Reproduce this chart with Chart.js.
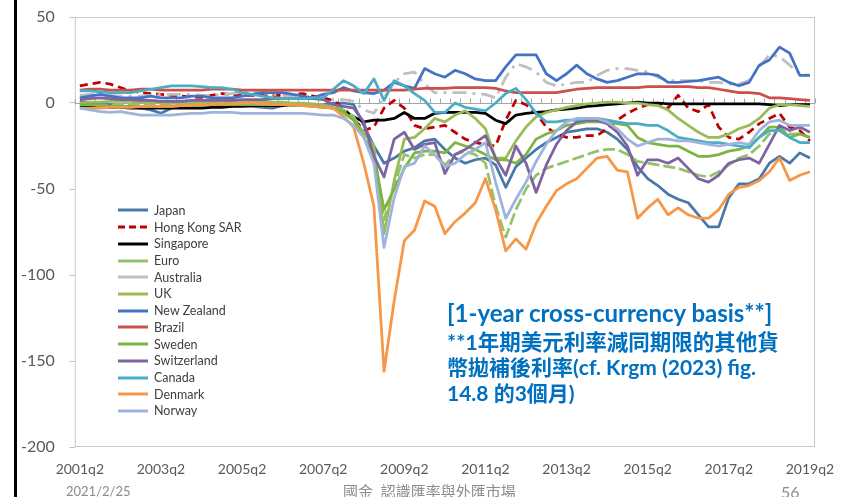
<!DOCTYPE html>
<html>
<head>
<meta charset="utf-8">
<script src="https://cdn.jsdelivr.net/npm/chart.js@4.4.1/dist/chart.umd.min.js"></script>
<style>
  body { margin: 0; background: #fff; }
  #slide { position: relative; width: 841px; height: 497px; overflow: hidden; font-family: 'Lato', 'Noto Sans CJK TC', sans-serif; }
  #basisChart { position: absolute; left: 0; top: 0; }
  .edge { position: absolute; left: 14px; top: 0; width: 3px; height: 497px; background: #000; }
  #legend { position: absolute; left: 118px; top: 202px; font-size: 12.5px; color: #404040; }
  #legend .row { height: 16.72px; display: flex; align-items: center; white-space: nowrap; }
  #legend svg { margin-right: 6px; }
  .note { position: absolute; left: 447px; color: #0070C0; font-weight: bold; white-space: nowrap; line-height: 26px; font-family: 'Lato', 'Noto Sans CJK TC', sans-serif; }
  .foot { position: absolute; color: #8C8C8C; line-height: 1; white-space: nowrap; }
</style>
</head>
<body>
<div id="slide">
  <canvas id="basisChart" width="841" height="497"></canvas>
  <div class="edge"></div>
  <div id="legend"></div>
  <div class="note" style="top:300px;font-size:24px;">[1-year cross-currency basis**]</div>
  <div class="note" style="top:329px;font-size:21.5px;">**1年期美元利率減同期限的其他貨</div>
  <div class="note" style="top:354px;font-size:21px;">幣拋補後利率(cf. Krgm (2023) fig.</div>
  <div class="note" style="top:380px;font-size:21px;">14.8 的3個月)</div>
  <div class="foot" style="left:66px;top:485px;font-size:13px;">2021/2/25</div>
  <div class="foot" style="left:343px;top:484px;font-size:15px;">國金&nbsp; 認識匯率與外匯市場</div>
  <div class="foot" style="left:781px;top:484px;font-size:16px;">56</div>
</div>
<script>
// quarterly categories 2001q2 .. 2019q2
const quarters = [];
for (let yr = 2001; yr <= 2019; yr++) {
  for (let q = 1; q <= 4; q++) {
    if (yr === 2001 && q < 2) continue;
    if (yr === 2019 && q > 2) continue;
    quarters.push(yr + 'q' + q);
  }
}

const yTicks = [50, 0, -50, -100, -150, -200];

const japan = [
  1, 0, -1, -1, -2, -2, -3, -4,
  -6, -3, -2, -2, -2, -1.5, -1, -1,
  -1.5, -2, -2.5, -3, -1.5, -1, -1, -1,
  -1, 0, 0, -1, -13, -25, -35, -32,
  -28, -26, -22, -21, -27, -32, -35, -33,
  -32, -36, -49, -37, -32, -27, -23, -20,
  -17, -16, -15, -15, -17, -21, -27, -37,
  -44, -48, -53, -56, -58, -65, -72, -72,
  -55, -47, -47, -44, -35, -31, -35, -29,
  -32];
const hongKong = [
  10, 11, 12, 11, 9, 7, 6, 5.5,
  5, 4.5, 4, 3.5, 3.3, 4.5, 5.5, 5,
  4.5, 4.5, 4.5, 4.5, 4.5, 5, 5.5, 4,
  3, 1.5, -3, -9, -16, -14, -3, 1.5,
  -3, -13, -15, -14, -13, -17, -21, -23,
  -24, -25, -10, 1.5, -1, -6, -14, -18,
  -20, -20, -19, -19, -15, -10, -6, -3,
  -1, 0, -3, 4.5, -3, -5, -1, -14,
  -20, -21, -17, -12, -9, -6, -14, -16,
  -22];
const singapore = [
  -2, -2, -2.5, -2.5, -2.5, -3, -3, -3,
  -3, -3, -3, -3, -3, -2.5, -2.5, -2,
  -2, -1.5, -1.5, -1.5, -1.5, -1, -1, -1.5,
  -2, -3, -4.5, -8, -11, -10, -10, -9,
  -5.5, -9, -9, -6, -5.5, -5.5, -5.5, -5.5,
  -6, -10, -12, -7, -6, -5.5, -5, -4,
  -3.5, -3, -2, -1.5, -1, -0.5, 0, 0.5,
  0, 0, -0.5, -0.5, -0.5, -0.5, -0.5, -0.5,
  -0.5, -0.5, -0.5, -0.5, -1, -1.5, -1, -1,
  -1];
const euro = [
  -1, -1, -1.5, -1.5, -1, -1, -1, -1,
  -1, -0.5, -0.5, 0, 0, 0, 0, 0,
  0, 0, 0, 0, -0.5, -0.5, -1, -1,
  -1.5, -2, -4, -8, -18, -28, -68, -48,
  -30, -32, -30, -30, -36, -30, -28, -30,
  -35, -60, -78, -62, -50, -42, -38, -36,
  -34, -32, -30, -28, -27, -27, -30, -34,
  -35, -36, -37, -38, -40, -42, -43, -40,
  -36, -32, -30, -25, -18, -15, -18, -18,
  -20];
const australia = [
  4.5, 5, 5, 4.5, 4, 4, 4, 4.5,
  5, 5, 5, 5, 4.5, 4.5, 5, 5.5,
  6, 6, 6, 5, 4.5, 4, 3.5, 3,
  3, 2, 2, 1, -4, -6, 3, 12,
  17, 18, 11, 6, 6, 6, 6, 5.5,
  5, 3, 15, 23, 21, 18, 12, 10,
  11, 12, 12, 16, 19, 20, 20, 19,
  18, 15, 13, 13, 13, 13, 12, 12,
  11, 11, 13, 21, 28, 27, 22, 17,
  16];
const uk = [
  0, 0.5, 0.5, 1, 1, 1, 0.5, 0.5,
  0, 0, 0, 0.5, 0.5, 0.5, 1, 1,
  1, 1, 1, 0.5, 0.5, 0, 0, -0.5,
  -1, -3, -6, -10, -17, -25, -76, -45,
  -21, -20, -15, -9, -11, -7, -4.5, -9,
  -15, -32, -32, -22, -14, -8, -5.5, -4,
  -2.5, -1.5, -0.5, 0, 0.5, 0.5, 0, 0,
  -1, -1.5, -4, -9, -13, -17, -20, -20,
  -18, -15, -13, -9, -3, -1, -1, -1.5,
  -2];
const newZealand = [
  3, 4, 5, 4, 3, 3, 3, 4,
  3, 3, 3, 4, 4, 3, 3, 3,
  4, 5, 6, 6, 6, 5, 4, 3,
  5, 6, 9, 7, 6, 5.5, 7.5, 12,
  10, 8.5, 20, 17, 15, 19, 17, 14,
  13, 13, 21, 28, 28, 28, 17, 13,
  17, 22, 17, 14, 12, 13, 15, 17,
  17, 16, 12, 12, 12.5, 13, 14, 15,
  12, 10, 12, 22, 25, 32.5, 29, 16,
  16];
const brazil = [
  7.5, 8, 8, 7.5, 7.5, 7.5, 8, 8,
  7.5, 7.5, 7.5, 7.5, 7.5, 8, 8, 8,
  7.5, 7.5, 7.5, 7.5, 7.5, 7.5, 7.5, 7.5,
  7.5, 7.5, 7.5, 7.5, 7.5, 7.5, 7.5, 7.5,
  7.5, 8, 8.5, 8.5, 8.5, 9, 9, 9,
  9, 8.5, 7, 6, 6, 6, 6, 6,
  7, 8, 8.5, 9, 9, 9, 9, 9,
  9.5, 9.5, 9.5, 9.5, 9.5, 9, 9, 8,
  7, 6, 6, 5.5, 3, 3, 2.5, 2,
  1.5];
const sweden = [
  -1, -1, -1.5, -2, -2, -2, -2, -2,
  -2, -2, -1.5, -1.5, -1.5, -1, -1, -1,
  -1, -1, -1, -1, -1, -1.5, -1.5, -2,
  -2.5, -3, -5, -10, -20, -30, -62, -50,
  -38, -29, -28, -28, -29, -23, -25, -27,
  -30, -33, -33, -35, -30, -21, -18, -16,
  -13, -12, -11, -11, -11, -12, -13, -20,
  -23, -24, -25, -25, -28, -31, -31, -30,
  -28, -27, -25, -20, -14, -14, -20, -18,
  -20];
const switzerland = [
  2, 2.5, 3, 2.5, 2, 2, 1.5, 1.5,
  1, 1, 1, 1.5, 1.5, 1.5, 1.5, 1.5,
  2, 2, 2, 2.5, 2.5, 2.5, 2.5, 2.5,
  2, -1, -2, -3, -11, -31, -43, -21,
  -17, -27, -24, -23, -41, -30, -27, -23,
  -19, -32, -42, -25, -35, -52, -36, -24,
  -16, -11, -10, -10, -12, -17, -25, -42,
  -33, -33, -35, -32, -38, -44, -46, -42,
  -35, -33, -32, -35, -24, -13, -16, -14,
  -17];
const canada = [
  7, 7, 6.5, 6, 6, 6, 7, 8,
  9, 10, 10, 10, 9.5, 9, 9, 8,
  6, 5, 4, 3, 2.5, 2.5, 2.5, 3,
  3, 8, 13, 10, 5.5, 14, 1.5, 13,
  10, 5.5, 1.5, -5.5, -5.5, 0, -2.5, -3.5,
  -4.5, 0, 5.5, 8.5, 2, -6, -11, -11,
  -10, -10, -9, -9, -10, -11, -12, -12,
  -13, -13, -16, -20, -21, -22, -23, -23,
  -24, -25, -26, -20, -16, -16, -20, -23,
  -23];
const denmark = [
  -3, -3, -3, -2.5, -2.5, -2.5, -2, -2,
  -2, -2, -1.5, -1.5, -1, -1, -0.5, -0.5,
  0, 0, -0.5, -1, -1, -1, -1.5, -2,
  -2.5, -3, -8, -14, -35, -60, -156, -115,
  -80, -74, -57, -60, -76, -69, -64, -58,
  -44, -62, -86, -79, -85, -70, -60, -51,
  -47, -44, -38, -32, -31, -39, -40, -67,
  -61, -56, -65, -61, -65, -67, -67, -62,
  -53, -49, -48, -45, -40, -32, -45, -42,
  -40];
const norway = [
  -3, -4, -5, -5.5, -5, -6, -7, -7,
  -7, -7, -6.5, -6, -6, -5.5, -5.5, -5.5,
  -6, -6, -6, -6, -6, -6, -6, -6.5,
  -7, -7, -9, -13, -20, -35, -84, -55,
  -37, -35, -25, -30, -37, -35, -30, -27,
  -23, -46, -67, -56, -46, -34, -24, -16,
  -11, -9, -9, -9, -11, -15, -21, -25,
  -23, -21, -21, -22, -22, -23, -24, -25,
  -24, -23, -24, -16, -11, -10, -13, -13,
  -13];

const series = [
  { label: 'Japan', data: japan, color: '#4878A8' },
  { label: 'Hong Kong SAR', data: hongKong, color: '#C00000', dash: [8, 5] },
  { label: 'Singapore', data: singapore, color: '#000000' },
  { label: 'Euro', data: euro, color: '#92C26A', dash: [12, 4] },
  { label: 'Australia', data: australia, color: '#BFBFBF', dash: [14, 6, 3, 6] },
  { label: 'UK', data: uk, color: '#9BBB59' },
  { label: 'New Zealand', data: newZealand, color: '#4472C4' },
  { label: 'Brazil', data: brazil, color: '#CB504C' },
  { label: 'Sweden', data: sweden, color: '#7DB543' },
  { label: 'Switzerland', data: switzerland, color: '#7F63A1' },
  { label: 'Canada', data: canada, color: '#4BACC6' },
  { label: 'Denmark', data: denmark, color: '#F79646' },
  { label: 'Norway', data: norway, color: '#9EB4DC' }
];

// plot border plus the category axis drawn across y = 0
const plotFrame = {
  id: 'plotFrame',
  beforeDatasetsDraw(chart) {
    const { ctx, chartArea: a, scales } = chart;
    const x = scales.x, y = scales.y;
    ctx.save();
    ctx.strokeStyle = '#C8C8C8';
    ctx.lineWidth = 1;
    ctx.strokeRect(a.left + 0.5, a.top + 0.5, a.width - 1, a.height - 1);
    const y0 = Math.round(y.getPixelForValue(0)) + 0.5;
    ctx.strokeStyle = '#A6A6A6';
    ctx.beginPath();
    ctx.moveTo(a.left, y0);
    ctx.lineTo(a.right, y0);
    for (let i = 0; i <= quarters.length; i++) {
      const px = Math.round(x.getPixelForValue(i - 0.5)) + 0.5;
      ctx.moveTo(px, y0 - 5);
      ctx.lineTo(px, y0);
    }
    ctx.stroke();
    ctx.restore();
  }
};

Chart.defaults.font.family = 'Lato';

const chart = new Chart(document.getElementById('basisChart').getContext('2d'), {
  type: 'line',
  data: {
    labels: quarters,
    datasets: series.map((s, i) => ({
      label: s.label,
      data: s.data,
      borderColor: s.color,
      backgroundColor: s.color,
      borderWidth: 2.75,
      borderDash: s.dash || [],
      borderJoinStyle: 'round',
      pointRadius: 0,
      pointHoverRadius: 0,
      tension: 0,
      fill: false,
      order: series.length - 1 - i
    }))
  },
  options: {
    responsive: false,
    animation: false,
    events: [],
    layout: { padding: { left: 14, right: 26, top: 17, bottom: 6 } },
    plugins: {
      legend: { display: false },
      tooltip: { enabled: false }
    },
    scales: {
      x: {
        type: 'category',
        offset: true,
        grid: { display: false, drawTicks: false },
        border: { display: false },
        afterFit: function (axis) {
          // the end labels may hang past the plot edge, as in the original
          axis.paddingLeft = 0;
          axis.paddingRight = 0;
        },
        ticks: {
          autoSkip: false,
          maxRotation: 0,
          padding: 13.6,
          color: '#595959',
          font: { size: 14 },
          callback: function (value, index) {
            return index % 8 === 0 ? quarters[index] : '';
          }
        }
      },
      y: {
        min: -200,
        max: 50,
        afterBuildTicks: function (axis) {
          axis.ticks = yTicks.slice().reverse().map(v => ({ value: v }));
        },
        grid: { drawOnChartArea: false, drawTicks: true, tickLength: 5, color: '#BFBFBF' },
        border: { display: false },
        ticks: {
          padding: 7,
          color: '#595959',
          font: { size: 16 },
          callback: function (value) {
            return value + '\u2002';
          }
        }
      }
    }
  },
  plugins: [plotFrame]
});

// legend placed inside the plot, built from the datasets
const legendBox = document.getElementById('legend');
chart.data.datasets.forEach((ds, i) => {
  const row = document.createElement('div');
  row.className = 'row';
  const dash = ds.label === 'Hong Kong SAR' ? 'stroke-dasharray="7 4"' : '';
  row.innerHTML = `<svg width="30" height="6"><line x1="0" y1="3" x2="30" y2="3" stroke="${ds.borderColor}" stroke-width="3" ${dash}/></svg><span>${ds.label}</span>`;
  legendBox.appendChild(row);
});
</script>
</body>
</html>
